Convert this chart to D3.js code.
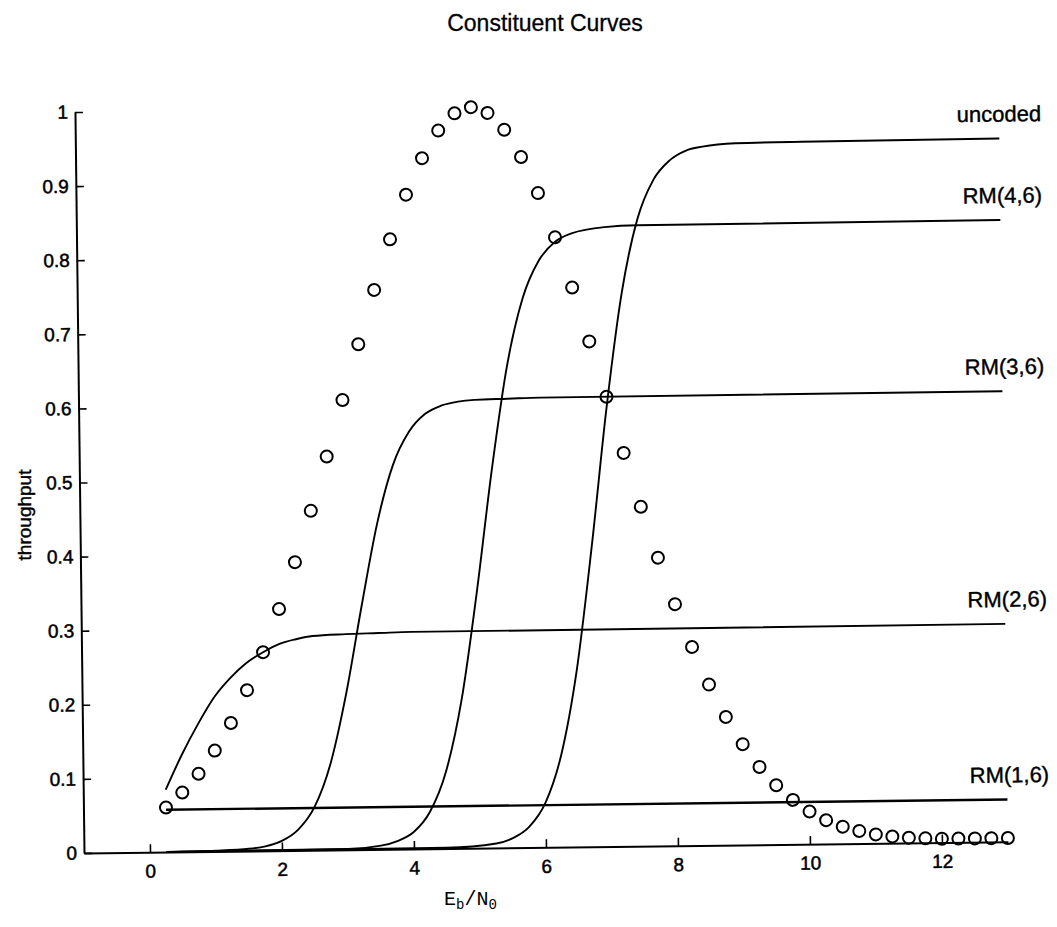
<!DOCTYPE html>
<html>
<head>
<meta charset="utf-8">
<script src="https://cdn.jsdelivr.net/npm/d3@7"></script>
<style>
  body { margin: 0; background: #fff; }
</style>
</head>
<body>
<svg id="chart" width="1057" height="927"></svg>
<script>
// tick values
const xTicks = [0, 2, 4, 6, 8, 10, 12]
const yTicks = [0, 0.1, 0.2, 0.3, 0.4, 0.5, 0.6, 0.7, 0.8, 0.9, 1]

// circles
const dotX = [0.25, 0.5, 0.75, 1, 1.25, 1.5, 1.75, 2, 2.25, 2.5, 2.75, 3, 3.25, 3.5, 3.75, 4,
  4.25, 4.5, 4.75, 5, 5.25, 5.5, 5.75, 6, 6.25, 6.5, 6.75, 7, 7.25, 7.5, 7.75, 8,
  8.25, 8.5, 8.75, 9, 9.25, 9.5, 9.75, 10, 10.25, 10.5, 10.75, 11, 11.25, 11.5, 11.75, 12,
  12.25, 12.5, 12.75, 13]
const dotY = [0.060, 0.080, 0.105, 0.136, 0.173, 0.217, 0.268, 0.326, 0.389, 0.458, 0.531, 0.607, 0.682, 0.755, 0.823, 0.883,
  0.932, 0.969, 0.992, 1.0, 0.992, 0.969, 0.932, 0.883, 0.823, 0.755, 0.682, 0.607, 0.531, 0.458, 0.389, 0.326,
  0.268, 0.217, 0.173, 0.136, 0.105, 0.080, 0.060, 0.044, 0.032, 0.023, 0.017, 0.012, 0.009, 0.007, 0.006, 0.005,
  0.005, 0.005, 0.005, 0.005]

// constituent curves
const rm16X = [0.25, 13]
const rm16Y = [0.057, 0.057]

const rm26X = [0.25, 0.5, 0.75, 1, 1.25, 1.5, 1.75, 2, 2.25, 2.5, 3, 3.5, 4, 6, 13]
const rm26Y = [0.084, 0.131, 0.172, 0.208, 0.234, 0.254, 0.268, 0.279, 0.285, 0.289, 0.291, 0.292, 0.293, 0.293, 0.294]

const rm36X = [0.25, 1, 1.5, 1.75, 2, 2.25, 2.5, 2.75, 3, 3.25, 3.5, 3.75, 4, 4.25, 4.5, 4.75, 5, 5.5, 6, 13]
const rm36Y = [0, 0.001, 0.003, 0.006, 0.013, 0.028, 0.058, 0.116, 0.21, 0.328, 0.439, 0.518, 0.563, 0.587, 0.598, 0.603, 0.605, 0.606, 0.607, 0.608]

const rm46X = [0.25, 3, 3.5, 3.75, 4, 4.25, 4.5, 4.75, 5, 5.25, 5.5, 5.75, 6, 6.25, 6.5, 7, 7.5, 13]
const rm46Y = [0, 0.001, 0.005, 0.011, 0.023, 0.05, 0.104, 0.201, 0.346, 0.511, 0.651, 0.742, 0.792, 0.817, 0.828, 0.836, 0.838, 0.839]

const uncX = [0.25, 4.5, 5.25, 5.5, 5.75, 6, 6.25, 6.5, 6.75, 7, 7.25, 7.5, 7.75, 8, 8.25, 8.5, 9, 10, 13]
const uncY = [0, 0.001, 0.006, 0.013, 0.028, 0.06, 0.125, 0.239, 0.406, 0.593, 0.747, 0.846, 0.899, 0.925, 0.938, 0.943, 0.947, 0.948, 0.949]

const curveNames = ['uncoded', 'RM(4,6)', 'RM(3,6)', 'RM(2,6)', 'RM(1,6)']
const curveXs = [uncX, rm46X, rm36X, rm26X, rm16X]
const curveYs = [uncY, rm46Y, rm36Y, rm26Y, rm16Y]

const sans = '"Liberation Sans", Arial, sans-serif'

const svg = d3.select('#chart')
svg.append('rect').attr('width', 1057).attr('height', 927).attr('fill', '#fff')

const xScale = d3.scaleLinear().domain([-1, 13]).range([84, 1008])
const yScale = d3.scaleLinear().domain([0, 1]).range([853, 112])

// the scanned page sits a little crooked, so the plot is tilted to match
const plot = svg.append('g').attr('transform', 'rotate(-0.7, 84, 853)')

const xAxis = d3.axisBottom(xScale).tickValues(xTicks).tickSizeInner(-8).tickSizeOuter(0).tickPadding(12)
const yAxis = d3.axisLeft(yScale).tickValues(yTicks).tickSizeInner(-8).tickSizeOuter(0).tickPadding(7)
  .tickFormat(d3.format('~g'))

const gx = plot.append('g').attr('transform', `translate(0, ${yScale(0)})`).call(xAxis)
const gy = plot.append('g').attr('transform', `translate(${xScale(-1)}, 0)`).call(yAxis)

for (const g of [gx, gy]) {
  g.select('.domain').attr('stroke', '#000').attr('stroke-width', 2)
  g.selectAll('.tick line').attr('stroke', '#000').attr('stroke-width', 1.6)
  g.selectAll('.tick text')
    .attr('font-size', 19)
    .attr('font-family', sans)
    .attr('fill', '#000')
    .attr('stroke', '#000')
    .attr('stroke-width', 0.5)
}

const line = d3.line()
  .x((d) => xScale(d[0]))
  .y((d) => yScale(d[1]))
  .curve(d3.curveMonotoneX)

curveNames.forEach((name, i) => {
  const pts = curveXs[i].map((x, j) => [x, curveYs[i][j]])
  plot.append('path')
    .datum(pts)
    .attr('fill', 'none')
    .attr('stroke', '#000')
    .attr('stroke-width', i === 4 ? 2.4 : 1.9)
    .attr('d', line)

  const last = pts[pts.length - 1]
  plot.append('text')
    .attr('x', xScale(last[0]) + 42)
    .attr('y', yScale(last[1]) - 17)
    .attr('text-anchor', 'end')
    .attr('font-family', sans)
    .attr('font-size', 22)
    .attr('stroke', '#000')
    .attr('stroke-width', 0.4)
    .text(name)
})

plot.append('g')
  .selectAll('circle')
  .data(dotX.map((x, i) => [x, dotY[i]]))
  .join('circle')
  .attr('cx', (d) => xScale(d[0]))
  .attr('cy', (d) => yScale(d[1]))
  .attr('r', 6)
  .attr('fill', 'none')
  .attr('stroke', '#000')
  .attr('stroke-width', 2)

svg.append('text')
  .attr('x', 545)
  .attr('y', 31)
  .attr('text-anchor', 'middle')
  .attr('font-family', sans)
  .attr('font-size', 23)
  .attr('stroke', '#000')
  .attr('stroke-width', 0.3)
  .text('Constituent Curves')

svg.append('text')
  .attr('transform', 'translate(31, 515) rotate(-90)')
  .attr('text-anchor', 'middle')
  .attr('font-family', sans)
  .attr('font-size', 19)
  .attr('stroke', '#000')
  .attr('stroke-width', 0.4)
  .text('throughput')

const xl = svg.append('text')
  .attr('x', 444)
  .attr('y', 905)
  .attr('font-family', '"Liberation Mono", "DejaVu Sans Mono", monospace')
  .attr('font-size', 20)
xl.append('tspan').text('E')
xl.append('tspan').attr('font-size', 14).attr('dy', 4).text('b')
xl.append('tspan').attr('dy', -4).text('/N')
xl.append('tspan').attr('font-size', 14).attr('dy', 4).text('0')
</script>
</body>
</html>
